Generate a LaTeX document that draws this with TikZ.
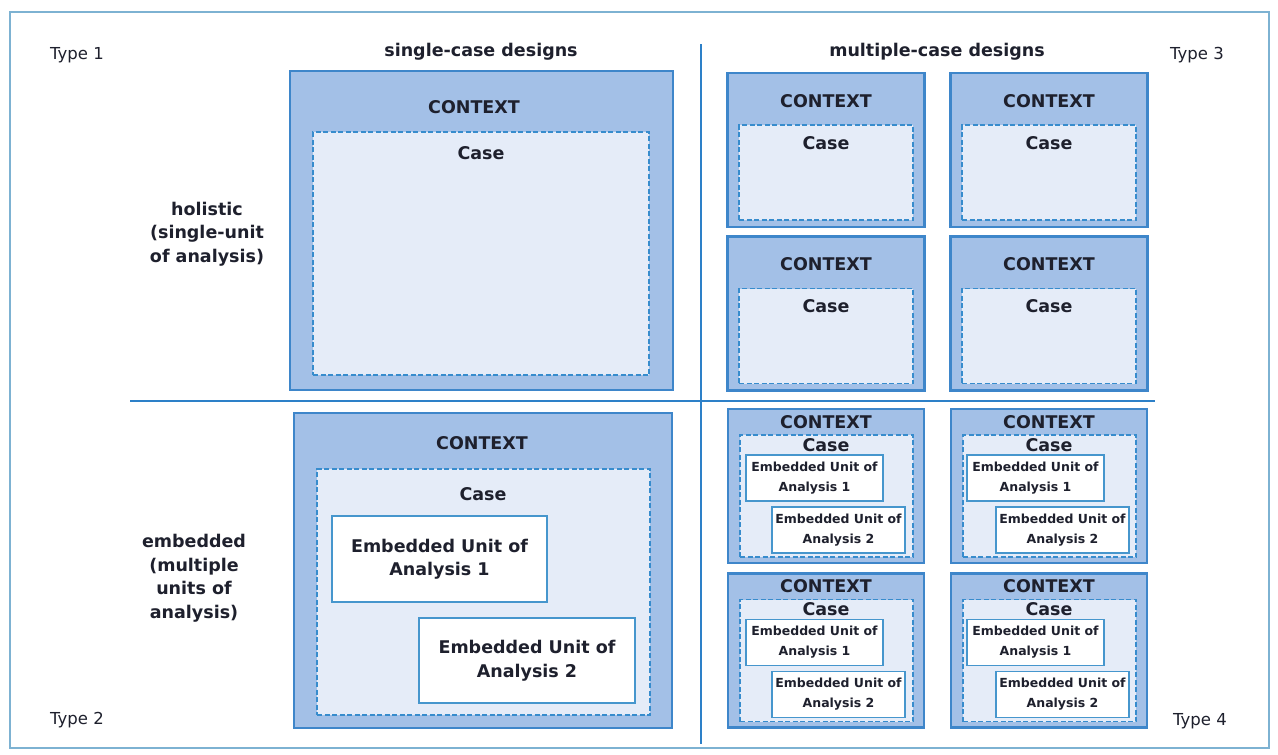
\documentclass[tikz,border=0pt]{standalone}
\usepackage{fontspec}
\setmainfont{DejaVu Sans}
\definecolor{ctxfill}{RGB}{163,192,231}
\definecolor{ctxborder}{RGB}{62,134,202}
\definecolor{casefill}{RGB}{229,236,248}
\definecolor{caseborder}{RGB}{55,140,205}
\definecolor{unitborder}{RGB}{70,150,205}
\definecolor{framecol}{RGB}{125,178,210}
\definecolor{divcol}{RGB}{45,128,200}
\definecolor{txt}{RGB}{30,32,45}
\tikzset{
  ctx/.style={draw=ctxborder, line width=2.2pt, fill=ctxfill, inner sep=0pt},
  casebox/.style={draw=caseborder, dash pattern=on 5pt off 2.5pt, line width=1.7pt, fill=casefill, inner sep=0pt},
  unitbox/.style={draw=unitborder, line width=1.3pt, fill=white, inner sep=0pt, align=center, text=txt},
  biglbl/.style={font=\bfseries\fontsize{17.5}{23.5}\selectfont, text=txt, align=center, inner sep=0pt},
  smalllbl/.style={font=\bfseries\fontsize{12.5}{20}\selectfont},
  typelbl/.style={font=\fontsize{16.5}{20}\selectfont, text=txt, inner sep=0pt},
  divider/.style={draw=divcol, line width=2pt},
}
\begin{document}
\begin{tikzpicture}[x=1pt,y=-1pt]
\useasboundingbox (0,0) rectangle (1278,755);
\fill[white] (0,0) rectangle (1278,755);
\draw[framecol, line width=2pt] (10,12) rectangle (1269,748);

% dividers
\coordinate (vtop) at (701,44);
\coordinate (vbot) at (701,744);
\coordinate (hleft) at (130,401);
\coordinate (hright) at (1155,401);
\draw[divider] (vtop) -- (vbot);
\draw[divider] (hleft) -- (hright);

% corner labels and headings
\node[typelbl] (type1) at (77,55) {Type 1};
\node[typelbl] (type2) at (77,720) {Type 2};
\node[typelbl] (type3) at (1197,55) {Type 3};
\node[typelbl] (type4) at (1200,721) {Type 4};
\node[biglbl] (hsingle) at (481,52) {single-case designs};
\node[biglbl] (hmulti) at (937,52) {multiple-case designs};
\node[biglbl] (holistic) at (207,234) {holistic\\(single-unit\\of analysis)};
\node[biglbl] (embedded) at (194,578) {embedded\\(multiple\\units of\\analysis)};

% Type 1
\node[ctx, minimum width=383pt, minimum height=319pt] (c1) at (481.5,230.5) {};
\node[biglbl] (c1t) at (474,107) {CONTEXT};
\node[casebox, minimum width=336pt, minimum height=243pt] (k1) at (481,253.5) {};
\node[biglbl] (k1t) at (481,153) {Case};

% Type 2
\node[ctx, minimum width=378pt, minimum height=315pt] (c2) at (483,570.5) {};
\node[biglbl] (c2t) at (482,443) {CONTEXT};
\node[casebox, minimum width=333pt, minimum height=246pt] (k2) at (483.5,592) {};
\node[biglbl] (k2t) at (483,494) {Case};
\node[unitbox, biglbl, minimum width=215pt, minimum height=86pt] (u21) at (439.5,559) {Embedded Unit of\\Analysis 1};
\node[unitbox, biglbl, minimum width=216pt, minimum height=85pt] (u22) at (527,660.5) {Embedded Unit of\\Analysis 2};

% Type 3
\foreach \cx/\c in {826/1,1049/2}{
  \foreach \cy/\r in {150/1,313.5/2}{
    \node[ctx, minimum width=197pt, minimum height=154pt] (c3-\c-\r) at (\cx,\cy) {};
    \node[biglbl] (c3t-\c-\r) at (\cx,{\cy-49}) {CONTEXT};
    \node[casebox, minimum width=174pt, minimum height=95pt] (k3-\c-\r) at (\cx,{\cy+22.5}) {};
    \node[biglbl] (k3t-\c-\r) at (\cx,{\cy-7}) {Case};
  }
}

% Type 4
\foreach \cx/\c/\da/\db in {826/1/-11.5/12.5,1049/2/-13.5/13.5}{
  \foreach \cy/\r in {486/1,650.5/2}{
    \node[ctx, minimum width=196pt, minimum height=154pt] (c4-\c-\r) at (\cx,\cy) {};
    \node[biglbl] (c4t-\c-\r) at (\cx,{\cy-64}) {CONTEXT};
    \node[casebox, minimum width=173pt, minimum height=122pt] (k4-\c-\r) at ({\cx+0.5},{\cy+10}) {};
    \node[biglbl] (k4t-\c-\r) at (\cx,{\cy-41}) {Case};
    \node[unitbox, biglbl, smalllbl, minimum width=137pt, minimum height=46pt] (u4a-\c-\r) at ({\cx+\da},{\cy-8}) {Embedded Unit of\\Analysis 1};
    \node[unitbox, biglbl, smalllbl, minimum width=133pt, minimum height=46pt] (u4b-\c-\r) at ({\cx+\db},{\cy+44}) {Embedded Unit of\\Analysis 2};
  }
}
\end{tikzpicture}
\end{document}
